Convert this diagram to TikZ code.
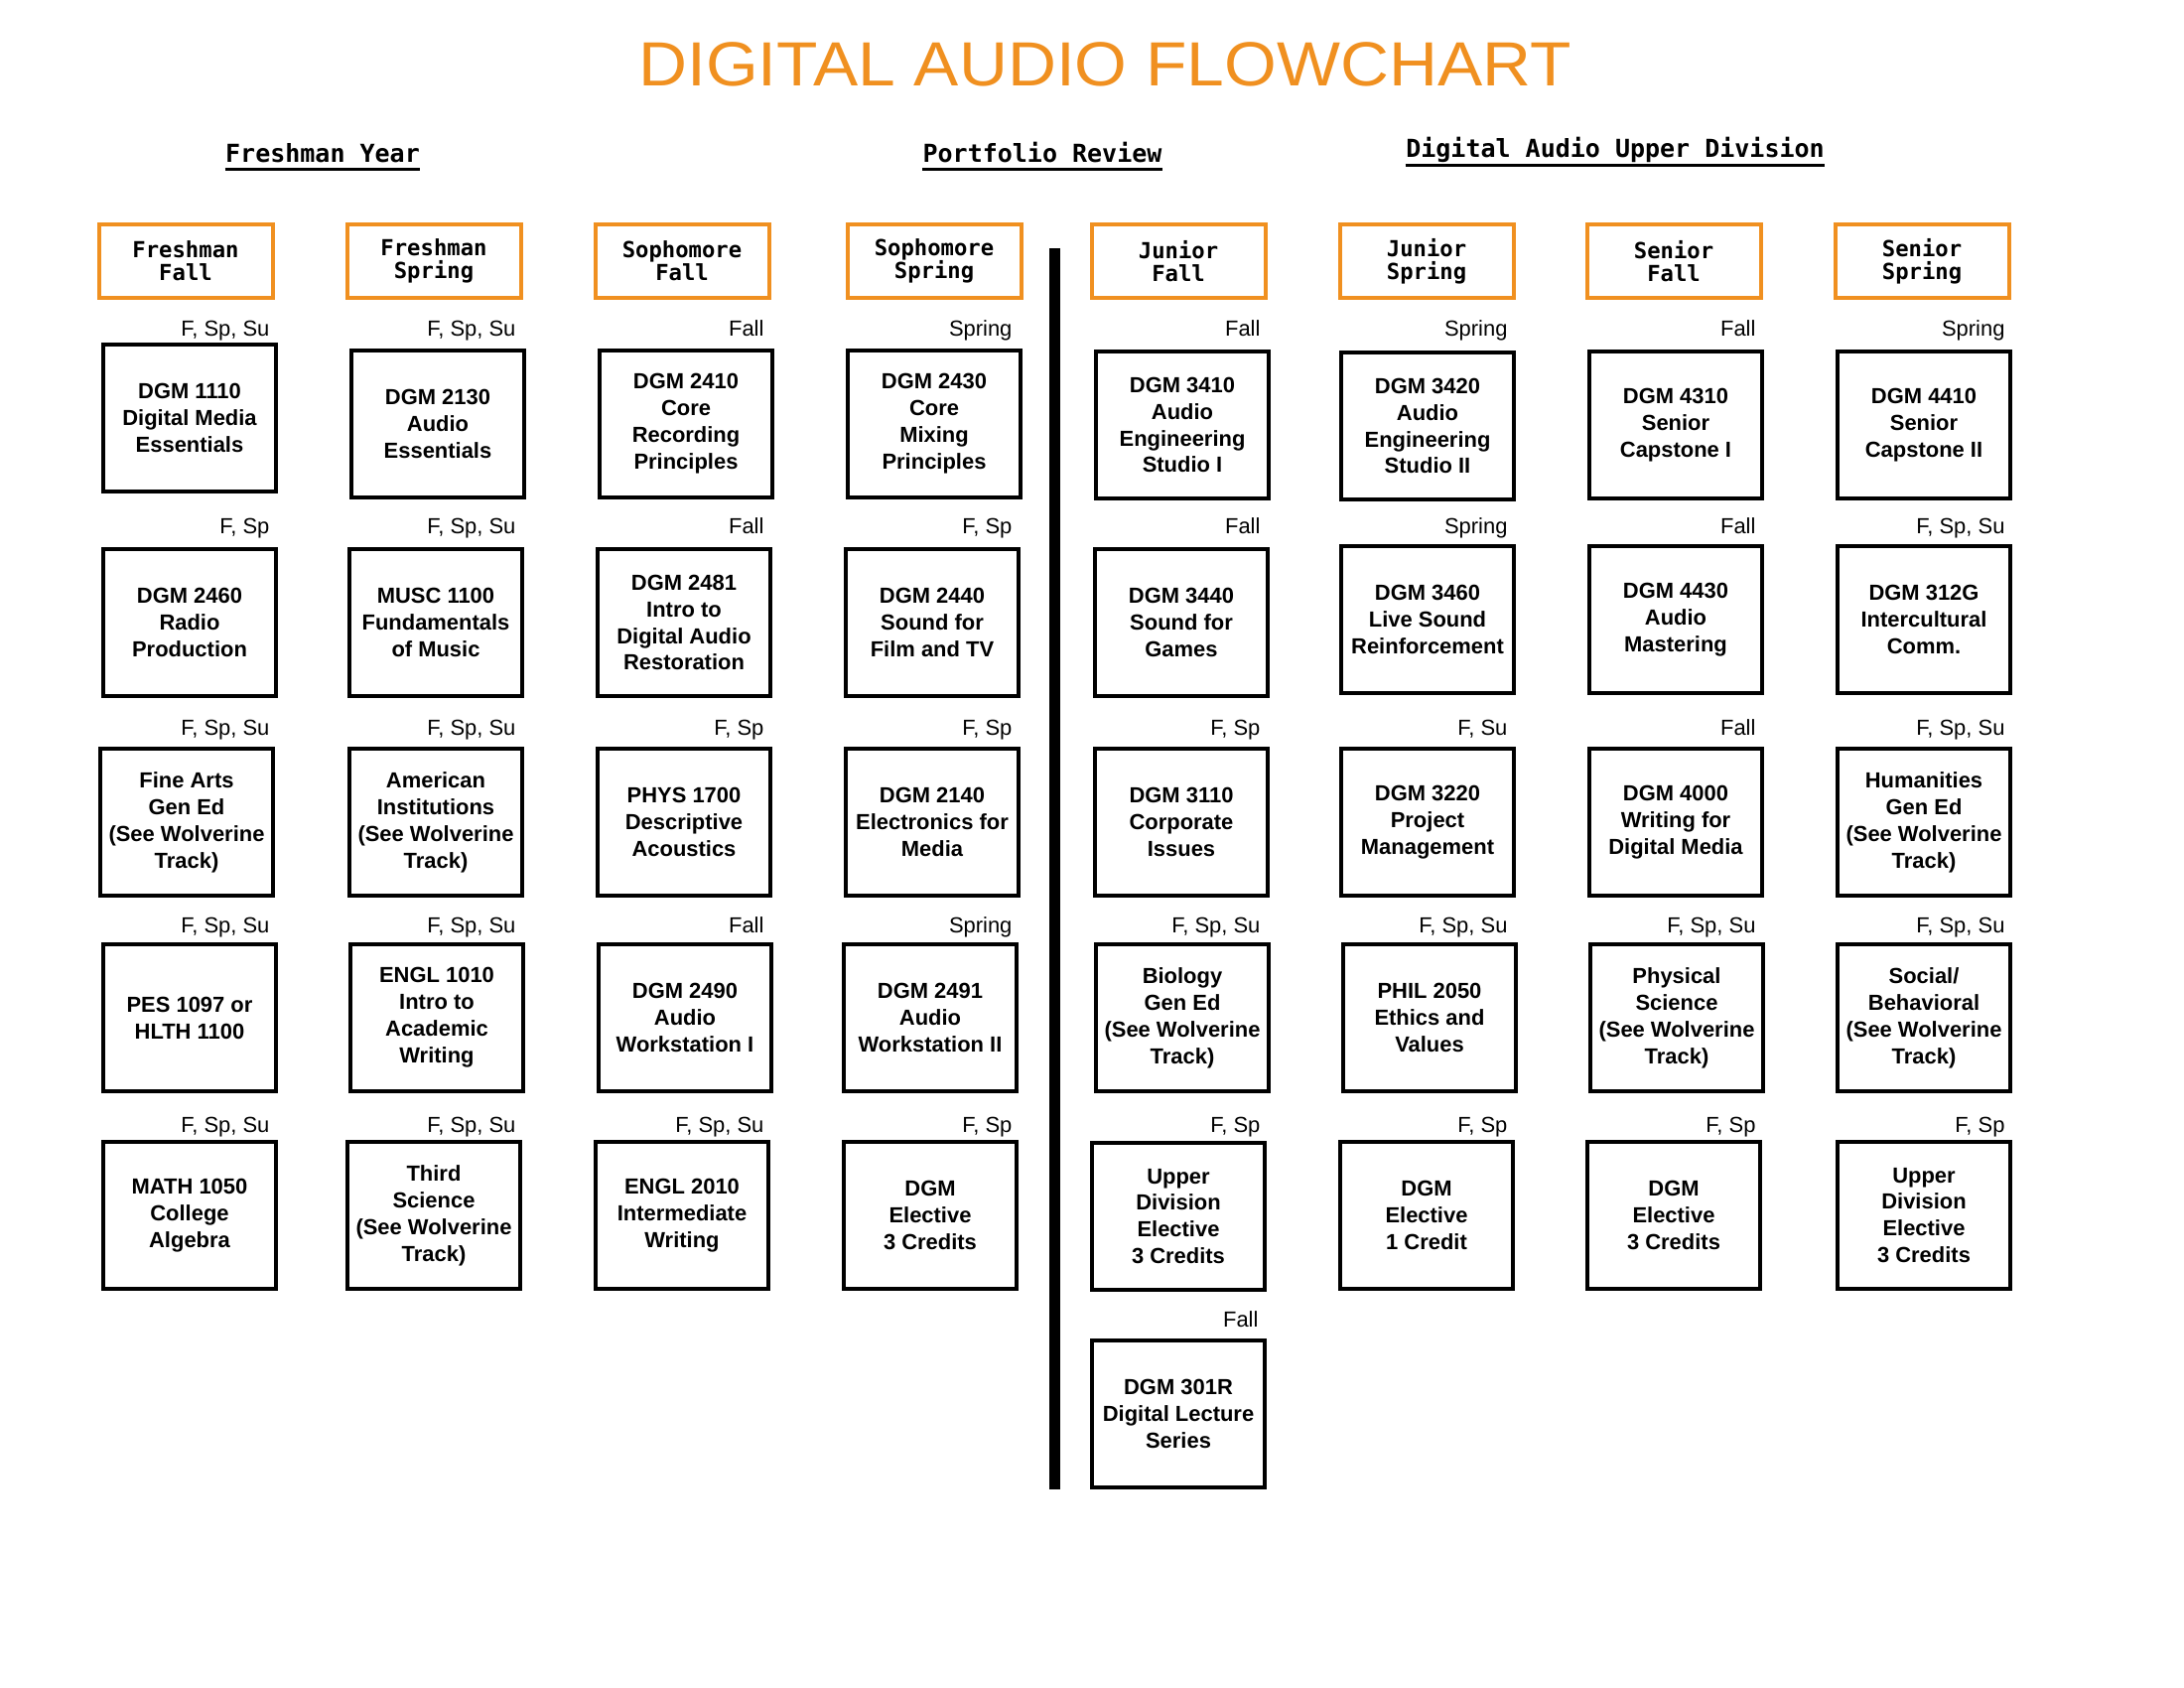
\documentclass[tikz,border=0pt]{standalone}
\usepackage{fontspec}
\usepackage{graphicx}
\setmainfont{Liberation Sans}
\newfontfamily\monofnt{DejaVu Sans Mono}
\newfontfamily\titlefnt{Liberation Sans}
\definecolor{hdrorange}{RGB}{240,144,32}
\tikzset{
  course/.style={draw=black, line width=1.44pt, minimum width=62.64pt, minimum height=53.28pt,
    inner sep=0pt, align=center, font=\fontsize{7.9}{9.7}\selectfont\bfseries},
  semhdr/.style={draw=hdrorange, line width=1.44pt, minimum width=63pt, minimum height=26.64pt,
    inner sep=0pt, align=center, font=\monofnt\bfseries\fontsize{8}{8.2}\selectfont},
  avail/.style={anchor=base east, inner sep=0pt, font=\fontsize{7.9}{9}\selectfont},
  secthead/.style={anchor=base, inner sep=0pt, font=\monofnt\bfseries\fontsize{9}{10}\selectfont},
  uline/.style={line width=1.1pt},
  divider/.style={line width=3.96pt},
}
\begin{document}
\begin{tikzpicture}[x=0.36pt,y=-0.36pt]
\useasboundingbox (0,0) rectangle (2200,1700);

% title
\node[inner sep=0pt, text=hdrorange] (title) at (1113,65)
  {\resizebox{338pt}{15.8pt}{\titlefnt DIGITAL AUDIO FLOWCHART}};

% section headings
\node[secthead] (secfy) at (325,164) {Freshman Year};
\node[secthead] (secpr) at (1050,164) {Portfolio Review};
\node[secthead] (secud) at (1627,159) {Digital Audio Upper Division};
\draw[uline] ([yshift=-2.4pt]secfy.base west) -- ([yshift=-2.4pt]secfy.base east);
\draw[uline] ([yshift=-2.4pt]secpr.base west) -- ([yshift=-2.4pt]secpr.base east);
\draw[uline] ([yshift=-2.6pt]secud.base west) -- ([yshift=-2.6pt]secud.base east);

% divider
\coordinate (bartop) at (1062.5,250);
\coordinate (barbot) at (1062.5,1500);
\draw[divider] (bartop) -- (barbot);

% semester headers
\node[semhdr] (h1) at (187,263) {Freshman\\Fall};
\node[semhdr] (h2) at (437,263) {Freshman\\Spring};
\node[semhdr] (h3) at (687,263) {Sophomore\\Fall};
\node[semhdr] (h4) at (941,263) {Sophomore\\Spring};
\node[semhdr] (h5) at (1187,263) {Junior\\Fall};
\node[semhdr] (h6) at (1437,263) {Junior\\Spring};
\node[semhdr] (h7) at (1686,263) {Senior\\Fall};
\node[semhdr] (h8) at (1936,263) {Senior\\Spring};

% column 1
\node[course] (c11) at (191,421) {DGM 1110\\Digital Media\\Essentials};
\node[course] (c12) at (191,627) {DGM 2460\\Radio\\Production};
\node[course] (c13) at (188,828) {Fine Arts\\Gen Ed\\(See Wolverine\\Track)};
\node[course] (c14) at (191,1025) {PES 1097 or\\HLTH 1100};
\node[course] (c15) at (191,1224) {MATH 1050\\College\\Algebra};
\node[avail] (a11) at (272,339) {F, Sp, Su};
\node[avail] (a12) at (272,538) {F, Sp};
\node[avail] (a13) at (272,741) {F, Sp, Su};
\node[avail] (a14) at (272,939) {F, Sp, Su};
\node[avail] (a15) at (272,1140) {F, Sp, Su};

% column 2
\node[course] (c21) at (441,427) {DGM 2130\\Audio\\Essentials};
\node[course] (c22) at (439,627) {MUSC 1100\\Fundamentals\\of Music};
\node[course] (c23) at (439,828) {American\\Institutions\\(See Wolverine\\Track)};
\node[course] (c24) at (440,1025) {ENGL 1010\\Intro to\\Academic\\Writing};
\node[course] (c25) at (437,1224) {Third\\Science\\(See Wolverine\\Track)};
\node[avail] (a21) at (520,339) {F, Sp, Su};
\node[avail] (a22) at (520,538) {F, Sp, Su};
\node[avail] (a23) at (520,741) {F, Sp, Su};
\node[avail] (a24) at (520,939) {F, Sp, Su};
\node[avail] (a25) at (520,1140) {F, Sp, Su};

% column 3
\node[course] (c31) at (691,427) {DGM 2410\\Core\\Recording\\Principles};
\node[course] (c32) at (689,627) {DGM 2481\\Intro to\\Digital Audio\\Restoration};
\node[course] (c33) at (689,828) {PHYS 1700\\Descriptive\\Acoustics};
\node[course] (c34) at (690,1025) {DGM 2490\\Audio\\Workstation I};
\node[course] (c35) at (687,1224) {ENGL 2010\\Intermediate\\Writing};
\node[avail] (a31) at (770,339) {Fall};
\node[avail] (a32) at (770,538) {Fall};
\node[avail] (a33) at (770,741) {F, Sp};
\node[avail] (a34) at (770,939) {Fall};
\node[avail] (a35) at (770,1140) {F, Sp, Su};

% column 4
\node[course] (c41) at (941,427) {DGM 2430\\Core\\Mixing\\Principles};
\node[course] (c42) at (939,627) {DGM 2440\\Sound for\\Film and TV};
\node[course] (c43) at (939,828) {DGM 2140\\Electronics for\\Media};
\node[course] (c44) at (937,1025) {DGM 2491\\Audio\\Workstation II};
\node[course] (c45) at (937,1224) {DGM\\Elective\\3 Credits};
\node[avail] (a41) at (1020,339) {Spring};
\node[avail] (a42) at (1020,538) {F, Sp};
\node[avail] (a43) at (1020,741) {F, Sp};
\node[avail] (a44) at (1020,939) {Spring};
\node[avail] (a45) at (1020,1140) {F, Sp};

% column 5
\node[course] (c51) at (1191,428) {DGM 3410\\Audio\\Engineering\\Studio I};
\node[course] (c52) at (1190,627) {DGM 3440\\Sound for\\Games};
\node[course] (c53) at (1190,828) {DGM 3110\\Corporate\\Issues};
\node[course] (c54) at (1191,1025) {Biology\\Gen Ed\\(See Wolverine\\Track)};
\node[course] (c55) at (1187,1225) {Upper\\Division\\Elective\\3 Credits};
\node[course] (c56) at (1187,1424) {DGM 301R\\Digital Lecture\\Series};
\node[avail] (a51) at (1270,339) {Fall};
\node[avail] (a52) at (1270,538) {Fall};
\node[avail] (a53) at (1270,741) {F, Sp};
\node[avail] (a54) at (1270,939) {F, Sp, Su};
\node[avail] (a55) at (1270,1140) {F, Sp};
\node[avail] (a56) at (1268,1336) {Fall};

% column 6
\node[course] (c61) at (1438,429) {DGM 3420\\Audio\\Engineering\\Studio II};
\node[course] (c62) at (1438,624) {DGM 3460\\Live Sound\\Reinforcement};
\node[course] (c63) at (1438,828) {DGM 3220\\Project\\Management};
\node[course] (c64) at (1440,1025) {PHIL 2050\\Ethics and\\Values};
\node[course] (c65) at (1437,1224) {DGM\\Elective\\1 Credit};
\node[avail] (a61) at (1519,339) {Spring};
\node[avail] (a62) at (1519,538) {Spring};
\node[avail] (a63) at (1519,741) {F, Su};
\node[avail] (a64) at (1519,939) {F, Sp, Su};
\node[avail] (a65) at (1519,1140) {F, Sp};

% column 7
\node[course] (c71) at (1688,428) {DGM 4310\\Senior\\Capstone I};
\node[course] (c72) at (1688,624) {DGM 4430\\Audio\\Mastering};
\node[course] (c73) at (1688,828) {DGM 4000\\Writing for\\Digital Media};
\node[course] (c74) at (1689,1025) {Physical\\Science\\(See Wolverine\\Track)};
\node[course] (c75) at (1686,1224) {DGM\\Elective\\3 Credits};
\node[avail] (a71) at (1769,339) {Fall};
\node[avail] (a72) at (1769,538) {Fall};
\node[avail] (a73) at (1769,741) {Fall};
\node[avail] (a74) at (1769,939) {F, Sp, Su};
\node[avail] (a75) at (1769,1140) {F, Sp};

% column 8
\node[course] (c81) at (1938,428) {DGM 4410\\Senior\\Capstone II};
\node[course] (c82) at (1938,624) {DGM 312G\\Intercultural\\Comm.};
\node[course] (c83) at (1938,828) {Humanities\\Gen Ed\\(See Wolverine\\Track)};
\node[course] (c84) at (1938,1025) {Social/\\Behavioral\\(See Wolverine\\Track)};
\node[course] (c85) at (1938,1224) {Upper\\Division\\Elective\\3 Credits};
\node[avail] (a81) at (2020,339) {Spring};
\node[avail] (a82) at (2020,538) {F, Sp, Su};
\node[avail] (a83) at (2020,741) {F, Sp, Su};
\node[avail] (a84) at (2020,939) {F, Sp, Su};
\node[avail] (a85) at (2020,1140) {F, Sp};
\end{tikzpicture}
\end{document}
